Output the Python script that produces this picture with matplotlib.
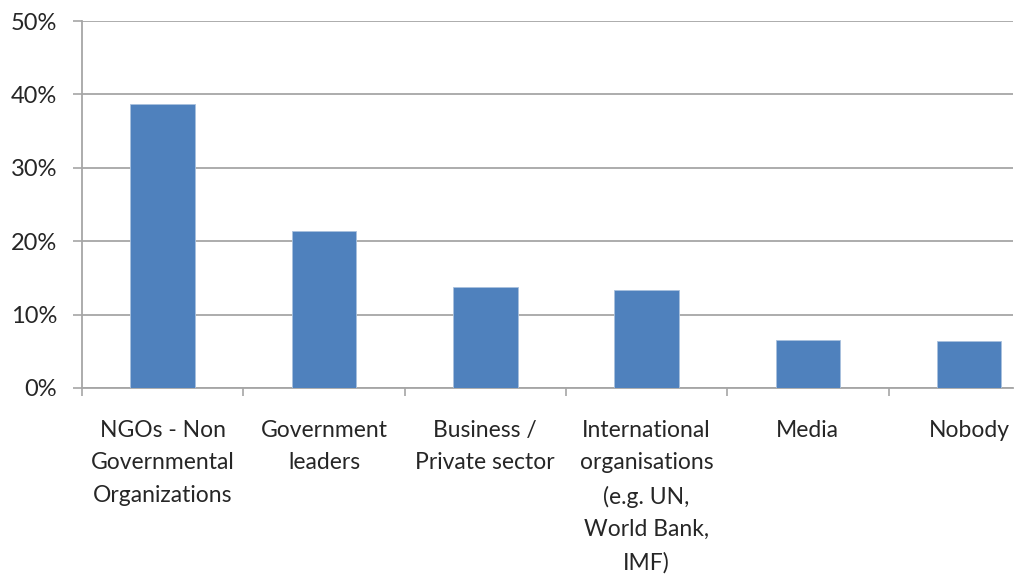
import numpy as np
import matplotlib
matplotlib.use("Agg")
import matplotlib.pyplot as plt
from matplotlib.ticker import PercentFormatter

# --- data ---
categories = [
    "NGOs - Non\nGovernmental\nOrganizations",
    "Government\nleaders",
    "Business /\nPrivate sector",
    "International\norganisations\n(e.g. UN,\nWorld Bank,\nIMF)",
    "Media",
    "Nobody",
]
shares = [38.7, 21.4, 13.8, 13.4, 6.5, 6.4]
y_ticks = [0, 10, 20, 30, 40, 50]

plt.rcParams["font.family"] = ["Lato", "DejaVu Sans"]
plt.rcParams["font.size"] = 16

grid_col = "#a6a6a6"
text_col = "#262626"

fig = plt.figure(figsize=(10.18, 5.76), dpi=100)
# plot area: left edge at 82px, right edge at 1013px; 0% at y=388, 50% at y=21
ax = fig.add_axes([82 / 1018, 188 / 576, 931 / 1018, 367 / 576])

x = np.arange(len(categories))
ax.bar(x, shares, width=0.4, color="#4f81bd", edgecolor="#a9c1de", linewidth=0.6, zorder=3)

ax.set_yticks(y_ticks)
ax.yaxis.set_major_formatter(PercentFormatter(decimals=0))

# category labels sit between the boundary ticks
ax.set_xticks(x)
ax.set_xticklabels(categories, linespacing=1.67, color=text_col, fontsize=16.5)
ax.set_xticks(np.arange(len(categories) + 1) - 0.5, minor=True)
ax.tick_params(axis="x", which="major", length=0, pad=23)
ax.tick_params(axis="x", which="minor", length=5.8, width=1.2, color=grid_col, direction="out")
ax.tick_params(axis="y", length=6.5, width=1.2, color=grid_col, pad=11.5, labelsize=17, labelcolor=text_col)

# the last category runs off the right edge of the plot area
cat_w = 161.3
ax.set_xlim(-0.5, -0.5 + 931 / cat_w)
ax.set_ylim(0, 50)

ax.grid(axis="y", color=grid_col, linewidth=1.3, zorder=0)
for side in ("top", "right"):
    ax.spines[side].set_visible(False)
for side in ("left", "bottom"):
    ax.spines[side].set_color(grid_col)
    ax.spines[side].set_linewidth(1.3)

fig.savefig("out.png", dpi=100)
